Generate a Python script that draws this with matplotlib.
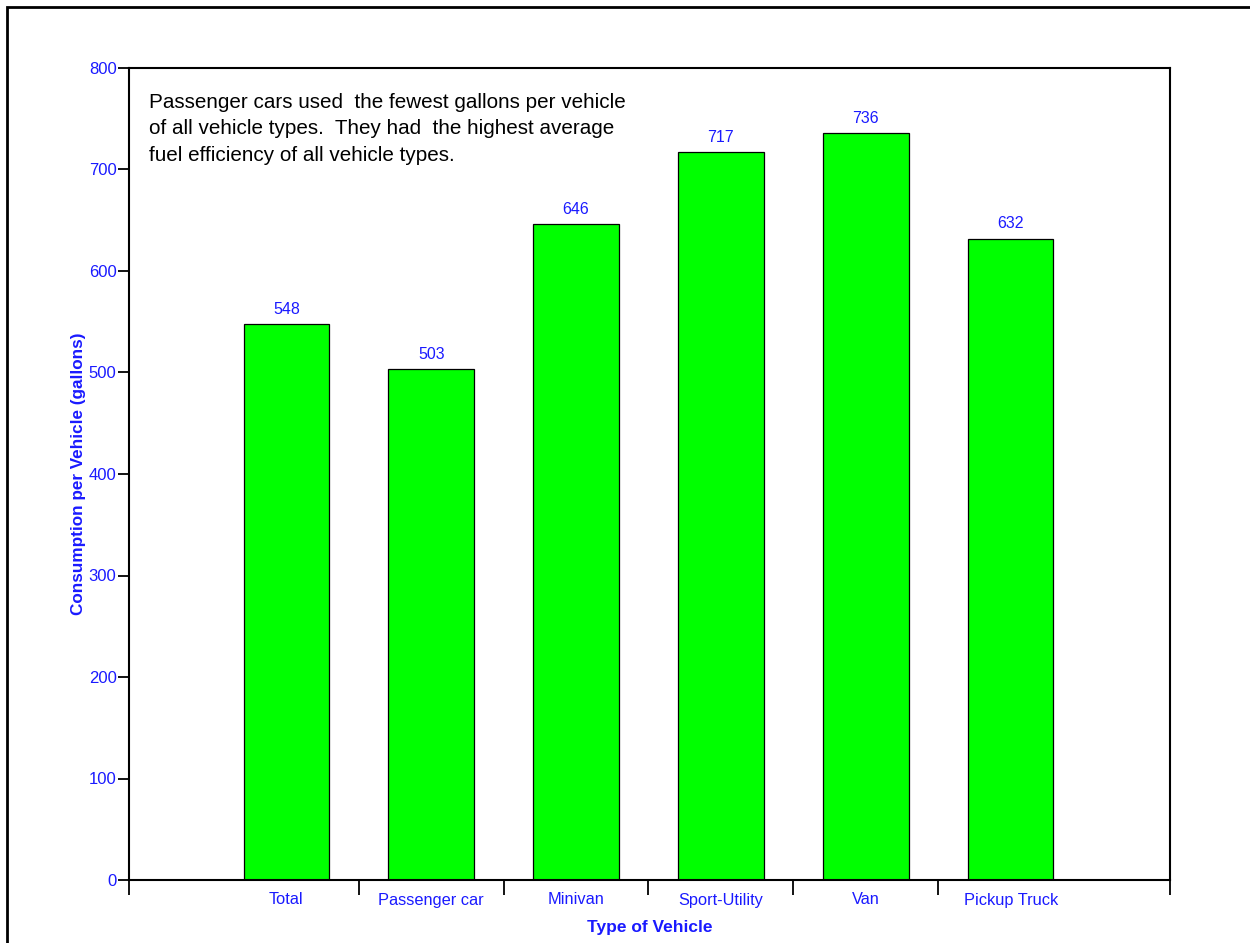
""" Fuel consumption per vehicle by vehicle type """
import matplotlib
matplotlib.use('Agg')
import matplotlib.pyplot as plt
from matplotlib.patches import Rectangle
import numpy as np

categories = ['Total', 'Passenger car', 'Minivan', 'Sport-Utility', 'Van', 'Pickup Truck']
gallons = [548, 503, 646, 717, 736, 632]
y_ticks = [0, 100, 200, 300, 400, 500, 600, 700, 800]
note = ("Passenger cars used  the fewest gallons per vehicle\n"
        "of all vehicle types.  They had  the highest average\n"
        "fuel efficiency of all vehicle types.")

plt.rcParams['font.family'] = ['Liberation Sans', 'DejaVu Sans']
blue = '#1a1aff'

fig = plt.figure(figsize=(12.5, 9.43), dpi=100)
ax = fig.add_axes([129 / 1250, 1 - 880 / 943, 1041 / 1250, 812 / 943])

xs = np.arange(1, len(categories) + 1)
ax.bar(xs, gallons, width=0.59, color='#00ff00', edgecolor='black', linewidth=0.9)
for x, v in zip(xs, gallons):
    ax.text(x, v + 7, str(v), ha='center', va='bottom', color=blue, fontsize=11.5)

ax.set_xlim(-0.086, 7.1)
ax.set_ylim(0, 800)
ax.set_yticks(y_ticks)
ax.set_yticklabels([str(t) for t in y_ticks], color=blue, fontsize=12)
ax.tick_params(axis='y', length=8, width=1.3, pad=1)

# boundaries between categories as major ticks, names as minor ticks
bounds = [-0.086] + list(xs[:-1] + 0.5) + [7.1]
ax.set_xticks(bounds)
ax.set_xticklabels([''] * len(bounds))
ax.set_xticks(xs, minor=True)
ax.set_xticklabels(categories, minor=True, color=blue, fontsize=11.8)
ax.tick_params(axis='x', which='major', length=11, width=1.3)
ax.tick_params(axis='x', which='minor', length=0, pad=9)

for s in ax.spines.values():
    s.set_linewidth(1.5)

ax.set_xlabel('Type of Vehicle', color=blue, fontsize=12.5, fontweight='bold', labelpad=9)
ax.set_ylabel('Consumption per Vehicle (gallons)', color=blue, fontsize=12.3,
              fontweight='bold', labelpad=2)

ax.text(149 / 1250, 1 - 93 / 943, note, transform=fig.transFigure, ha='left', va='top',
        fontsize=14.9, color='black', linespacing=1.5)

# outer frame
fig.patches.append(Rectangle((7 / 1250, -0.05), 1.1, 1 - 6.5 / 943 + 0.05,
                             transform=fig.transFigure, fill=False,
                             edgecolor='black', linewidth=2))

fig.savefig('out.png', dpi=100)
